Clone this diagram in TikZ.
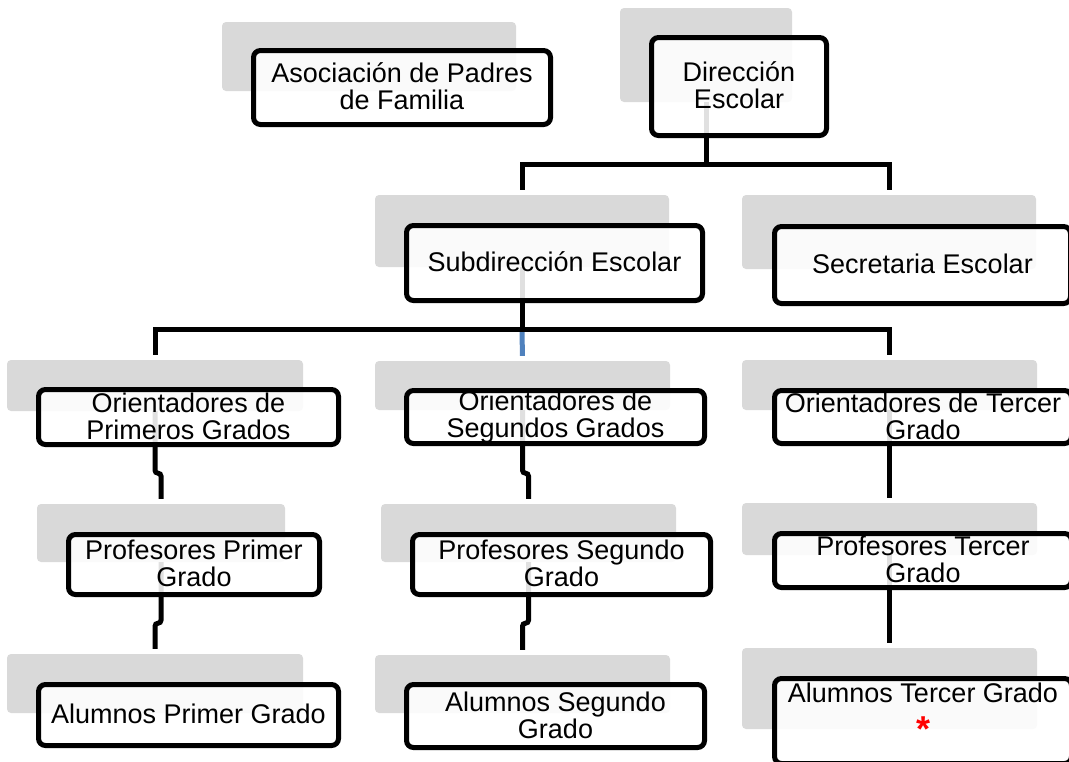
\documentclass[tikz,border=0pt]{standalone}
\usepackage{fontspec}
\setmainfont{Liberation Sans}
\usetikzlibrary{calc}
\definecolor{shadegray}{HTML}{D9D9D9}
\definecolor{connblue}{HTML}{4F81BD}
\definecolor{astred}{HTML}{FF0000}
\begin{document}
\begin{tikzpicture}[x=1pt,y=-1pt,
  shadowrect/.style={fill=shadegray, draw=none, rounded corners=4pt, inner sep=0pt},
  box/.style={draw=black, line width=5pt, rounded corners=7pt, fill=white, fill opacity=0.88,
              draw opacity=1, text opacity=1, align=center, inner sep=0pt,
              font=\fontsize{27}{27}\selectfont,
              execute at end node={\rule[-2pt]{0pt}{1pt}}},
  onebox/.style={box, execute at begin node={\rule{0pt}{25pt}}, execute at end node=\strut},
  boxtext/.style={align=center, inner sep=0pt, font=\fontsize{27}{27}\selectfont},
  conn/.style={line width=5pt, draw=black, line join=miter},
  jog/.style={conn, rounded corners=3pt}]
\useasboundingbox (0,0) rectangle (1069,761);
\clip (0,0) rectangle (1069,761);

% grey back plates
\node[shadowrect, minimum width=294, minimum height=69] (gAP) at (369,56.5) {};
\node[shadowrect, minimum width=172, minimum height=94] (gDE) at (706,55) {};
\node[shadowrect, minimum width=294, minimum height=72] (gSU) at (522,231) {};
\node[shadowrect, minimum width=294, minimum height=74] (gSE) at (889,232) {};
\node[shadowrect, minimum width=296, minimum height=51] (gO1) at (155,385.5) {};
\node[shadowrect, minimum width=295, minimum height=49] (gO2) at (522.5,385.5) {};
\node[shadowrect, minimum width=295, minimum height=50] (gO3) at (889.5,385) {};
\node[shadowrect, minimum width=248, minimum height=58] (gP1) at (161,533) {};
\node[shadowrect, minimum width=295, minimum height=58] (gP2) at (528.5,533) {};
\node[shadowrect, minimum width=295, minimum height=52] (gP3) at (889.5,529) {};
\node[shadowrect, minimum width=296, minimum height=59] (gA1) at (155,683.5) {};
\node[shadowrect, minimum width=295, minimum height=58] (gA2) at (522.5,684) {};
\node[shadowrect, minimum width=295, minimum height=81] (gA3) at (889.5,688.5) {};

% connectors
\coordinate (h1) at ($(gDE.south)+(0,62)$);
\coordinate (h2) at ($(gSU.south)+(0,62)$);
\draw[conn, shorten >=5pt] (gDE.south) -- (h1) -| (gSU.north);
\draw[conn, shorten >=5pt] (gDE.south) -- (h1) -| (gSE.north);
\draw[conn, draw=connblue, shorten >=5pt] (h2) -- (gO2.north);
\draw[conn, shorten >=5pt] (gSU.south) -- (h2) -| (gO1.north);
\draw[conn, shorten >=5pt] (gSU.south) -- (h2) -| (gO3.north);
\draw[jog, shorten >=5pt] (gO1.south) -- ++(0,62) -| (gP1.north);
\draw[jog, shorten >=5pt] (gP1.south) -- ++(0,61) -| (gA1.north);
\draw[jog, shorten >=5pt] (gO2.south) -- ++(0,63) -| (gP2.north);
\draw[jog, shorten >=5pt] (gP2.south) -- ++(0,61) -| (gA2.north);
\draw[conn, shorten >=5pt] (gO3.south) -- (gP3.north);
\draw[conn, shorten >=5pt] (gP3.south) -- (gA3.north);

% boxes
\node[box, minimum width=297, minimum height=74] (bAP) at (402,87.5) {Asociación de Padres\\de Familia};
\node[box, minimum width=175, minimum height=98] (bDE) at (739,86.5) {Dirección\\Escolar};
\node[onebox, minimum width=296, minimum height=75] (bSU) at (554.5,263) {Subdirección Escolar};
\node[onebox, minimum width=296, minimum height=77] (bSE) at (922.5,265) {Secretaria Escolar};
\node[box, minimum width=300, minimum height=55] (bO1) at (188.5,417) {Orientadores de\\Primeros Grados};
\node[box, minimum width=298, minimum height=53] (bO2) at (555.5,417) {Orientadores de\\Segundos Grados};
\node[box, minimum width=297, minimum height=53] (bO3) at (923,417) {Orientadores de Tercer\\Grado};
\node[box, minimum width=251, minimum height=60] (bP1) at (194,564.5) {Profesores Primer\\Grado};
\node[box, minimum width=298, minimum height=60] (bP2) at (561.5,564.5) {Profesores Segundo\\Grado};
\node[box, minimum width=297, minimum height=54] (bP3) at (923,560.5) {Profesores Tercer\\Grado};
\node[onebox, minimum width=300, minimum height=61] (bA1) at (188.5,715) {Alumnos Primer Grado};
\node[box, minimum width=298, minimum height=63] (bA2) at (555.5,716) {Alumnos Segundo\\Grado};
\node[box, minimum width=297, minimum height=85] (bA3) at (923,721) {};
\node[boxtext] (tA3) at (923,697) {\strut Alumnos Tercer Grado};
\node[inner sep=0pt, text=astred, font=\fontsize{36}{36}\selectfont\bfseries] (ast) at (923,729) {*};
\end{tikzpicture}
\end{document}
